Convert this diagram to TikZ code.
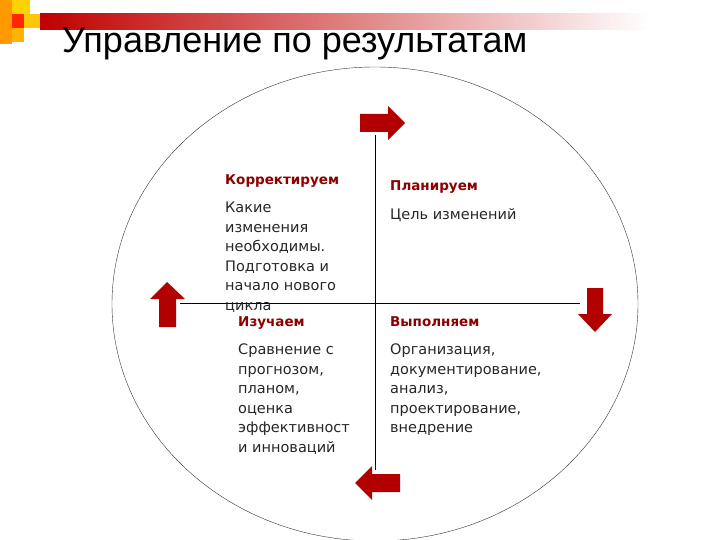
\documentclass[tikz,border=0pt]{standalone}
\usepackage{fontspec}
\setmainfont{Liberation Sans}
\newfontfamily\djsans{DejaVu Sans}
\begin{document}
\begin{tikzpicture}[x=1pt,y=-1pt,
  head/.style={font=\djsans\bfseries\fontsize{13.5}{16}\selectfont,text=red!55!black,anchor=north west,inner sep=0},
  body/.style={font=\djsans\fontsize{14.5}{19.5}\selectfont,text=black!85,anchor=north west,inner sep=0,align=left},
  arr/.style={fill=red!70!black,draw=none}]
\useasboundingbox (0,0) rectangle (720,540);
\shade[left color=red!75!black,right color=white] (40,14) rectangle (650,30);
\fill[orange!80!yellow] (0,0) rectangle (12,44);
\fill[yellow!70!orange] (12,0) rectangle (30,14);
\fill[red!70!orange] (12,14) rectangle (24,28);
\fill[yellow!60!orange] (24,14) rectangle (40,28);
\fill[orange!60!yellow] (12,28) rectangle (24,42);
\node[anchor=west,inner sep=0,font=\fontsize{36}{40}\selectfont] (title) at (62,44) {Управление по результатам};
\draw[black!80] (375,304) ellipse [x radius=263,y radius=237];
\coordinate (vt) at (375,135); \coordinate (vb) at (375,470);
\coordinate (hl) at (180,303); \coordinate (hr) at (580,303);
\draw (vt) -- (vb); \draw (hl) -- (hr);
\fill[arr] (360,114) -- (388,114) -- (388,106) -- (405,123) -- (388,140) -- (388,132) -- (360,132) -- cycle;
\fill[arr] (587,288) -- (603,288) -- (603,314) -- (612,314) -- (595,332) -- (578,314) -- (587,314) -- cycle;
\fill[arr] (400,474) -- (372,474) -- (372,466) -- (355,483) -- (372,500) -- (372,492) -- (400,492) -- cycle;
\fill[arr] (159,327) -- (176,327) -- (176,299) -- (185,299) -- (167,282) -- (150,299) -- (159,299) -- cycle;
\node[head] (h1) at (225,174) {Корректируем};
\node[body] (b1) at (225,202) {Какие\\изменения\\необходимы.\\Подготовка и\\начало нового\\цикла};
\node[head] (h2) at (390,180) {Планируем};
\node[body] (b2) at (390,208) {Цель изменений};
\node[head] (h3) at (238,316) {Изучаем};
\node[body] (b3) at (238,344) {Сравнение с\\прогнозом,\\планом,\\оценка\\эффективност\\и инноваций};
\node[head] (h4) at (390,316) {Выполняем};
\node[body] (b4) at (390,344) {Организация,\\документирование,\\анализ,\\проектирование,\\внедрение};
\end{tikzpicture}
\end{document}
